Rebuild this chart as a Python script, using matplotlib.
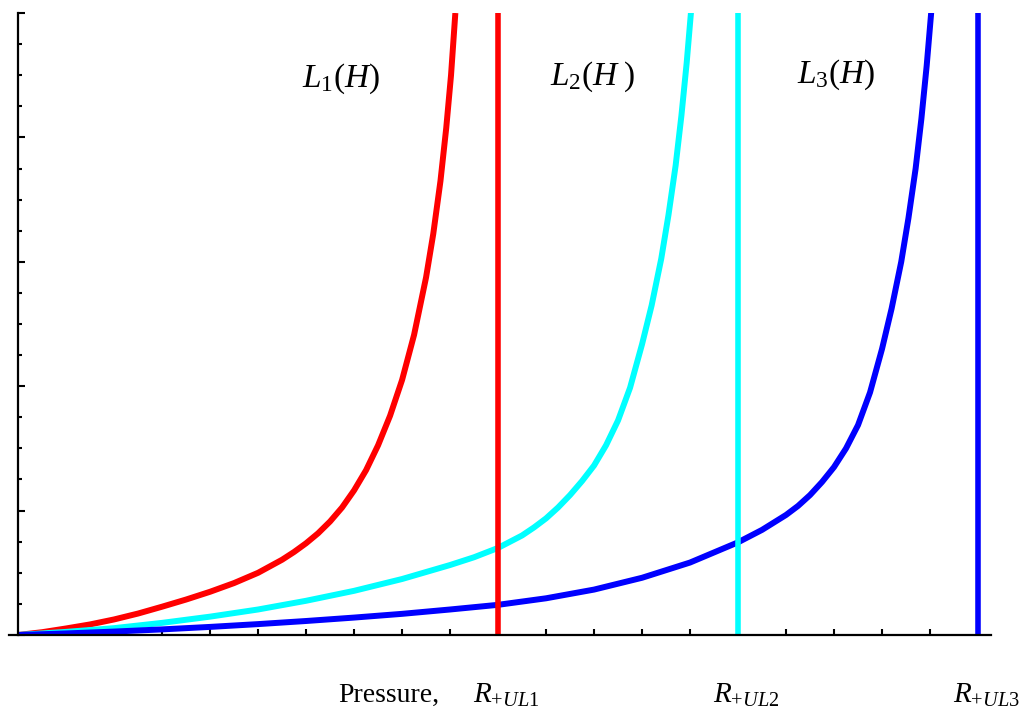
import numpy as np
import matplotlib
matplotlib.use('Agg')
import matplotlib.pyplot as plt
from matplotlib.ticker import MultipleLocator

plt.rcParams['font.family'] = ['Liberation Serif', 'DejaVu Serif']
plt.rcParams['mathtext.fontset'] = 'custom'
plt.rcParams['mathtext.rm'] = 'Liberation Serif'
plt.rcParams['mathtext.it'] = 'Liberation Serif:italic'

# L1(H), L2(H), L3(H)
x1 = [0, 0.5, 1, 1.5, 2, 2.5, 3, 3.5, 4, 4.5, 5, 5.5, 5.75, 6, 6.25, 6.5, 6.75, 7, 7.25, 7.5, 7.75,
      8.0, 8.25, 8.5, 8.65, 8.8, 8.92, 9.02, 9.11]
y1 = [0, 0.09, 0.21, 0.34, 0.5, 0.69, 0.91, 1.14, 1.39, 1.67, 2.0, 2.42, 2.67, 2.95, 3.27, 3.65, 4.1, 4.65, 5.3, 6.1, 7.05,
      8.2, 9.65, 11.5, 12.9, 14.6, 16.3, 18.0, 20.0]

x2 = [0, 1, 2, 3, 4, 5, 6, 7, 8, 9, 9.5, 10, 10.5, 10.75, 11, 11.25, 11.5, 11.75, 12, 12.25, 12.5, 12.75,
      13.0, 13.2, 13.4, 13.55, 13.7, 13.82, 13.93, 14.04]
y2 = [0, 0.1, 0.22, 0.39, 0.59, 0.82, 1.1, 1.42, 1.8, 2.25, 2.5, 2.8, 3.2, 3.46, 3.75, 4.1, 4.5, 4.95, 5.45, 6.1, 6.9, 7.95,
      9.35, 10.6, 12.1, 13.5, 15.1, 16.7, 18.4, 20.4]

x3 = [0, 1, 2, 3, 4, 5, 6, 7, 8, 9, 10, 11, 12, 13, 14, 15, 15.5, 16, 16.25, 16.5, 16.75, 17, 17.25,
      17.5, 17.75, 18.0, 18.2, 18.4, 18.55, 18.7, 18.82, 18.93, 19.04]
y3 = [0, 0.05, 0.11, 0.18, 0.26, 0.35, 0.45, 0.56, 0.68, 0.82, 0.97, 1.18, 1.46, 1.84, 2.33, 2.98, 3.38, 3.86, 4.15, 4.5, 4.92, 5.4, 6.0,
      6.75, 7.8, 9.2, 10.5, 12.0, 13.4, 15.0, 16.6, 18.3, 20.3]

r_ul = [10, 15, 20]
colors = ['#ff0000', '#00ffff', '#0000ff']
curve_labels = [r'$L_1(H)$', r'$L_2(H\;)$', r'$L_3(H)$']
label_x = [6.73, 11.97, 17.05]
label_y = [17.9, 17.95, 18.0]
r_labels = [r'$R_{+UL1}$', r'$R_{+UL2}$', r'$R_{+UL3}$']

fig = plt.figure(figsize=(10.21, 7.15), dpi=100)
ax = fig.add_axes([0.0088, 0.1119, 0.9618, 0.8699])

for xs, ys, c in zip([x1, x2, x3], [y1, y2, y3], colors):
    ax.plot(xs, ys, color=c, lw=4.3, solid_capstyle='butt', solid_joinstyle='round')
for r, c in zip(r_ul, colors):
    ax.plot([r, r], [0, 20], color=c, lw=4.0, solid_capstyle='butt')

for lx, ly, t in zip(label_x, label_y, curve_labels):
    ax.text(lx, ly, t, fontsize=24, ha='center', va='center')

ax.text(7.73, -1.95, 'Pressure,', fontsize=20, ha='center', va='center', clip_on=False)
for r, t in zip(r_ul, r_labels):
    ax.text(r + 0.18, -1.95, t, fontsize=21, ha='center', va='center', clip_on=False)

ax.set_xlim(-0.19, 20.27)
ax.set_ylim(0, 20)
ax.spines['top'].set_visible(False)
ax.spines['right'].set_visible(False)
ax.spines['left'].set_position(('data', 0))
ax.spines['left'].set_linewidth(1.6)
ax.spines['bottom'].set_linewidth(1.6)

ax.set_xticks(np.arange(1, 21))
ax.yaxis.set_major_locator(MultipleLocator(4))
ax.yaxis.set_minor_locator(MultipleLocator(1))
ax.tick_params(axis='x', direction='in', length=4, width=1.5, labelbottom=False)
ax.tick_params(axis='y', which='major', direction='in', length=5, width=1.5, labelleft=False)
ax.tick_params(axis='y', which='minor', direction='in', length=3, width=1.5)

fig.savefig('out.png', dpi=100)
